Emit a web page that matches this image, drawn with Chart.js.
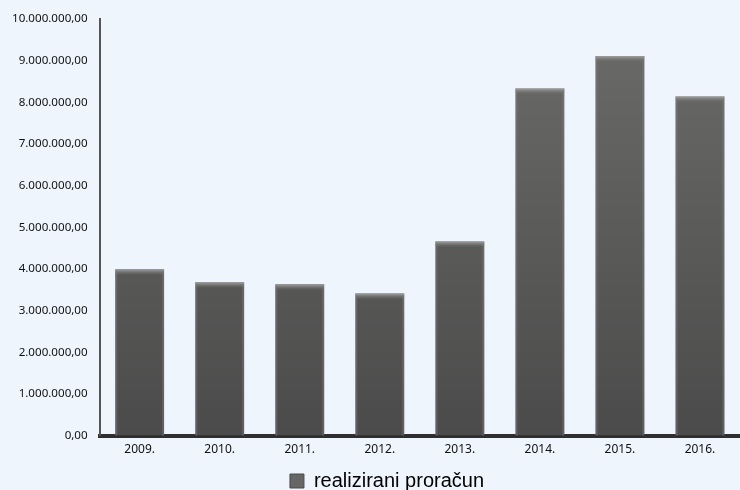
<!DOCTYPE html>
<html>
<head>
<meta charset="utf-8">
<script src="https://cdn.jsdelivr.net/npm/chart.js@4"></script>
<style>
  html, body { margin: 0; padding: 0; background: #eef5fd; }
  #wrap { width: 740px; height: 490px; }
</style>
</head>
<body>
<div id="wrap"><canvas id="budgetChart"></canvas></div>
<script>
// Chart data
const years = ['2009.', '2010.', '2011.', '2012.', '2013.', '2014.', '2015.', '2016.'];
const realizedBudget = [3990000, 3680000, 3630000, 3410000, 4660000, 8330000, 9110000, 8140000];
const seriesLabel = 'realizirani proračun';

// 1234567 -> "1.234.567,00"
function formatHr(value) {
    const fixed = Math.abs(value).toFixed(2);
    const parts = fixed.split('.');
    const intPart = parts[0].replace(/\B(?=(\d{3})+(?!\d))/g, '.');
    return (value < 0 ? '-' : '') + intPart + ',' + parts[1];
}

// Bars get a vertical shade, plus a light bevel on top and sides
const bevelPlugin = {
    id: 'bevel',
    afterDatasetsDraw(chart) {
        const ctx = chart.ctx;
        const meta = chart.getDatasetMeta(0);
        meta.data.forEach(bar => {
            const left = bar.x - bar.width / 2;
            const top = bar.y;
            const bottom = bar.base;
            const g = ctx.createLinearGradient(0, top, 0, top + 6);
            g.addColorStop(0, '#a3a3a3');
            g.addColorStop(1, 'rgba(110,110,108,0)');
            ctx.save();
            ctx.fillStyle = g;
            ctx.fillRect(left, top, bar.width, 6);
            ctx.fillStyle = 'rgba(130,130,130,0.4)';
            ctx.fillRect(left, top + 3, 2, bottom - top - 3);
            ctx.fillRect(left + bar.width - 2, top + 3, 2, bottom - top - 3);
            ctx.restore();
        });
    }
};

// Nudge the legend a little right and down, like the original
const legendShift = {
    id: 'legendShift',
    afterUpdate(chart) {
        const l = chart.legend;
        l.left += 17;
        l.right += 17;
        l.top += 5;
        l.bottom += 5;
    }
};

function barFill(context) {
    const area = context.chart.chartArea;
    if (!area) return '#5c5c5c';
    const g = context.chart.ctx.createLinearGradient(0, area.top, 0, area.bottom);
    g.addColorStop(0, '#6b6b69');
    g.addColorStop(1, '#4b4b4b');
    return g;
}

const ctx = document.getElementById('budgetChart').getContext('2d');
const chart = new Chart(ctx, {
    type: 'bar',
    data: {
        labels: years,
        datasets: [{
            label: seriesLabel,
            data: realizedBudget,
            backgroundColor: barFill,
            borderWidth: 0,
            barPercentage: 0.61,
            categoryPercentage: 1.0
        }]
    },
    options: {
        responsive: true,
        maintainAspectRatio: false,
        animation: false,
        layout: {
            padding: { top: 17, right: 0, left: 0, bottom: -6 }
        },
        plugins: {
            legend: {
                position: 'bottom',
                labels: {
                    color: '#1a1a1a',
                    font: { family: 'Liberation Sans', size: 20 },
                    boxWidth: 14,
                    boxHeight: 14,
                    padding: 2,
                    generateLabels: () => [{
                        text: seriesLabel,
                        fillStyle: '#666666',
                        strokeStyle: '#4a4a4a',
                        lineWidth: 1,
                        datasetIndex: 0
                    }]
                }
            },
            tooltip: { enabled: false }
        },
        scales: {
            x: {
                grid: { display: false, drawTicks: false },
                border: { display: true, color: '#2e2e2e', width: 4 },
                ticks: {
                    color: '#111',
                    padding: 7,
                    font: { family: 'Noto Sans', size: 12 }
                }
            },
            y: {
                min: 0,
                max: 10000000,
                grid: { display: false, drawTicks: false },
                border: { display: true, color: '#555', width: 2 },
                ticks: {
                    stepSize: 1000000,
                    color: '#111',
                    padding: 12,
                    font: { family: 'Noto Sans', size: 11.6 },
                    callback: value => formatHr(value)
                }
            }
        }
    },
    plugins: [bevelPlugin, legendShift]
});
</script>
</body>
</html>
